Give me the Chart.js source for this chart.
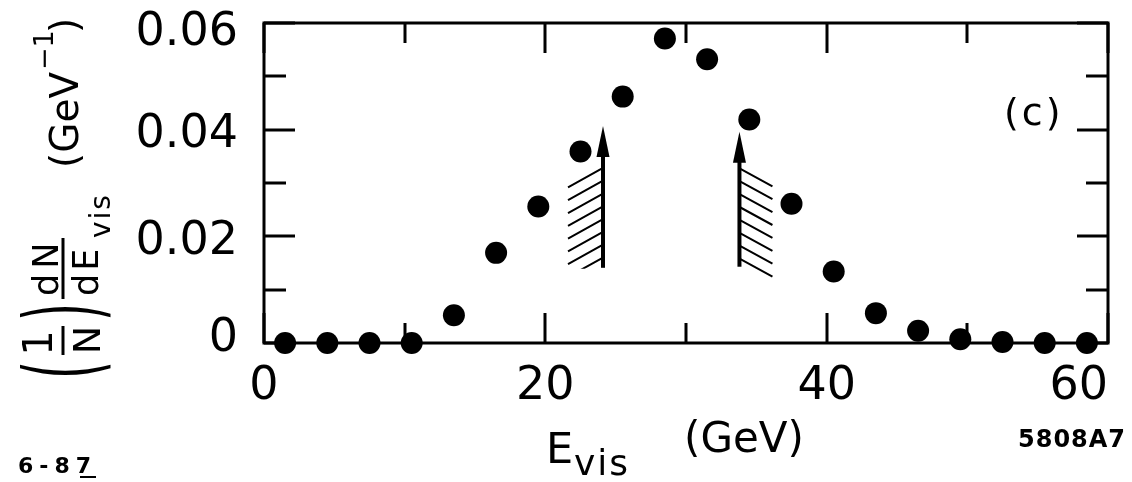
<!DOCTYPE html>
<html>
<head>
<meta charset="utf-8">
<script src="https://cdn.jsdelivr.net/npm/chart.js@4.4.1/dist/chart.umd.min.js"></script>
<style>
  html, body { margin: 0; padding: 0; background: #fff; }
  #wrap { width: 1132px; height: 482px; }
  canvas { display: block; }
</style>
</head>
<body>
<div id="wrap"><canvas id="c" width="1132" height="482"></canvas></div>
<script>
// Visible-energy bin centres (GeV), 3 GeV wide bins
const binCentres = [1.5, 4.5, 7.5, 10.5, 13.5, 16.5, 19.5, 22.5, 25.5, 28.5,
                    31.5, 34.5, 37.5, 40.5, 43.5, 46.5, 49.5, 52.5, 55.5, 58.5];
// Normalised distribution (1/N) dN/dE_vis, GeV^-1
const density = [0, 0, 0, 0, 0.0052, 0.0169, 0.0256, 0.0359, 0.0462, 0.0571,
                 0.0532, 0.0419, 0.0261, 0.0134, 0.0056, 0.0023, 0.0007, 0.0002, 0, 0];

// Labelled ticks
const xTickValues = [0, 20, 40, 60];
const xTickText = ['0', '20', '40', '60'];
const yTickValues = [0, 0.02, 0.04, 0.06];
const yTickText = ['0', '0.02', '0.04', '0.06'];

// Energy cuts shown as arrows (GeV), with the bottom and top of each arrow
const cutEnergy = [24.1, 33.8];
const cutArrowBase = [0.0141, 0.0143];
const cutArrowTip = [0.0407, 0.0396];
const cutHatchSide = ['left', 'right'];

const FAM = "'DejaVu Sans', sans-serif";

function labelFor(values, texts, v) {
  for (let i = 0; i < values.length; i++) {
    if (Math.abs(values[i] - v) < 1e-9) return texts[i];
  }
  return '';
}
function isMajor(values, v) {
  return values.some(t => Math.abs(t - v) < 1e-9);
}

// Vertical nudge (px) of each y label relative to its tick; the label is
// drawn as a two-line entry with an empty line so the shift is lineHeight/2
const yLabelShift = { 0: -4, 0.02: 6, 0.04: 5, 0.06: 10 };

// Frame on all four sides with inward ticks (long on labelled values)
const framePlugin = {
  id: 'frame',
  beforeDatasetsDraw(chart) {
    const { ctx, chartArea: a, scales: { x, y } } = chart;
    ctx.save();
    ctx.strokeStyle = '#000';
    ctx.lineWidth = 3;
    ctx.lineCap = 'butt';
    ctx.strokeRect(a.left, a.top, a.right - a.left, a.bottom - a.top);
    ctx.beginPath();
    x.ticks.forEach(t => {
      const px = Math.round(x.getPixelForValue(t.value));
      const len = isMajor(xTickValues, t.value) ? 30 : 20;
      ctx.moveTo(px, a.bottom); ctx.lineTo(px, a.bottom - len);
      ctx.moveTo(px, a.top); ctx.lineTo(px, a.top + len);
    });
    y.ticks.forEach(t => {
      const py = Math.round(y.getPixelForValue(t.value));
      const len = isMajor(yTickValues, t.value) ? 31 : 22;
      ctx.moveTo(a.left, py); ctx.lineTo(a.left + len, py);
      ctx.moveTo(a.right, py); ctx.lineTo(a.right - len, py);
    });
    ctx.stroke();
    ctx.restore();
  }
};

// Cut arrows with hatching on the rejected side
const cutsPlugin = {
  id: 'cuts',
  afterDatasetsDraw(chart) {
    const { ctx, scales: { x, y } } = chart;
    ctx.save();
    ctx.strokeStyle = '#000';
    ctx.fillStyle = '#000';
    cutEnergy.forEach((e, i) => {
      const px = x.getPixelForValue(e);
      const yb = y.getPixelForValue(cutArrowBase[i]);
      const yt = y.getPixelForValue(cutArrowTip[i]);
      // shaft
      ctx.lineWidth = 4;
      ctx.beginPath();
      ctx.moveTo(px, yb);
      ctx.lineTo(px, yt + 26);
      ctx.stroke();
      // head
      ctx.beginPath();
      ctx.moveTo(px, yt);
      ctx.lineTo(px - 6.5, yt + 31);
      ctx.lineTo(px + 6.5, yt + 31);
      ctx.closePath();
      ctx.fill();
      // hatching
      ctx.lineWidth = 2;
      ctx.save();
      if (cutHatchSide[i] === 'left') {
        ctx.beginPath();
        ctx.rect(px - 40, yt, 40, yb - yt + 1);
        ctx.clip();
        ctx.beginPath();
        for (let k = 0; k < 8; k++) {
          const y0 = yt + 42 + 12.8 * k;
          ctx.moveTo(px, y0);
          ctx.lineTo(px - 35, y0 + 19.5);
        }
        ctx.stroke();
      } else {
        ctx.beginPath();
        for (let k = 0; k < 8; k++) {
          const y0 = yt + 37 + 12.9 * k;
          ctx.moveTo(px + 1, y0);
          ctx.lineTo(px + 33, y0 + 17.5);
        }
        ctx.stroke();
      }
      ctx.restore();
    });
    ctx.restore();
  }
};

// Axis titles, panel tag and figure codes
const textPlugin = {
  id: 'texts',
  afterDraw(chart) {
    const { ctx } = chart;
    const H = chart.height;
    ctx.save();
    ctx.fillStyle = '#000';
    ctx.strokeStyle = '#000';
    ctx.textBaseline = 'alphabetic';

    // ---- y title, written bottom-to-top: (1/N) dN/dE_vis (GeV^-1)
    ctx.save();
    ctx.translate(0, H);
    ctx.rotate(-Math.PI / 2);
    // u runs up the page, v runs to the right
    const tallParen = (ch, u) => {
      ctx.save();
      ctx.scale(1, 2.2);
      ctx.font = `46px ${FAM}`;
      ctx.textAlign = 'center';
      ctx.fillText(ch, u, 44);
      ctx.restore();
    };
    tallParen('(', 112);
    ctx.textAlign = 'center';
    ctx.font = `40px ${FAM}`;
    ctx.fillText('1', 139, 52);
    ctx.font = `38px ${FAM}`;
    ctx.fillText('N', 142, 100);
    ctx.lineWidth = 3;
    ctx.beginPath();
    ctx.moveTo(127, 63); ctx.lineTo(156, 63);
    ctx.stroke();
    tallParen(')', 170);

    ctx.textAlign = 'left';
    ctx.font = `35px ${FAM}`;
    ctx.letterSpacing = '5px';
    ctx.fillText('dN', 186, 58);
    ctx.letterSpacing = '3px';
    ctx.fillText('dE', 186, 98);
    ctx.font = `28px ${FAM}`;
    ctx.letterSpacing = '2px';
    ctx.fillText('vis', 244, 110);
    ctx.letterSpacing = '0px';
    ctx.beginPath();
    ctx.moveTo(183, 63); ctx.lineTo(244, 63);
    ctx.stroke();

    ctx.font = `39px ${FAM}`;
    ctx.fillText('(GeV', 314, 78);
    ctx.font = `27px ${FAM}`;
    ctx.fillText('\u22121', 412, 53);
    ctx.font = `39px ${FAM}`;
    ctx.fillText(')', 449, 78);
    ctx.restore();

    // ---- x title: E_vis (GeV)
    ctx.textAlign = 'left';
    ctx.font = `43px ${FAM}`;
    ctx.fillText('E', 546, 463);
    ctx.font = `36px ${FAM}`;
    ctx.letterSpacing = '2px';
    ctx.fillText('vis', 574, 475);
    ctx.letterSpacing = '0px';
    ctx.font = `42px ${FAM}`;
    ctx.fillText('(GeV)', 684, 452);

    // ---- panel tag
    ctx.font = `38px ${FAM}`;
    ctx.letterSpacing = '3px';
    ctx.fillText('(c)', 1004, 125);

    // ---- figure codes
    ctx.font = `bold 22px ${FAM}`;
    ctx.letterSpacing = '6px';
    ctx.fillText('6-87', 18, 473);
    ctx.lineWidth = 2;
    ctx.beginPath();
    ctx.moveTo(80, 477); ctx.lineTo(96, 477);
    ctx.stroke();
    ctx.font = `bold 24px ${FAM}`;
    ctx.letterSpacing = '1px';
    ctx.fillText('5808A7', 1018, 447);
    ctx.restore();
  }
};

const points = binCentres.map((e, i) => ({ x: e, y: density[i] }));

function yShiftFor(v) {
  const key = Math.round(v * 100) / 100;
  return yLabelShift[key] || 0;
}

new Chart(document.getElementById('c').getContext('2d'), {
  type: 'scatter',
  data: {
    datasets: [{
      data: points,
      backgroundColor: '#000',
      borderWidth: 0,
      pointRadius: 11,
      pointHoverRadius: 11,
      clip: false
    }]
  },
  options: {
    responsive: false,
    animation: false,
    devicePixelRatio: 1,
    events: [],
    layout: { padding: { left: 0, top: 23, right: 24, bottom: 0 } },
    plugins: { legend: { display: false }, tooltip: { enabled: false } },
    scales: {
      x: {
        type: 'linear',
        min: 0, max: 60,
        grid: { display: false, drawTicks: false },
        border: { display: false },
        ticks: {
          stepSize: 10,
          autoSkip: false,
          maxRotation: 0,
          padding: 21,
          color: '#000',
          font: { family: FAM, size: 46, lineHeight: 1 },
          // trailing spaces pull the last label back inside the canvas
          callback: (v) => {
            const s = labelFor(xTickValues, xTickText, v);
            return v === 60 && s ? s + '    ' : s;
          }
        },
        afterFit: (s) => { s.height = 139; s.paddingLeft = 0; s.paddingRight = 0; }
      },
      y: {
        type: 'linear',
        min: 0, max: 0.06,
        grid: { display: false, drawTicks: false },
        border: { display: false },
        ticks: {
          stepSize: 0.01,
          autoSkip: false,
          padding: 26,
          color: '#000',
          font: (c) => {
            const sh = c.tick ? Math.abs(yShiftFor(c.tick.value)) : 0;
            return { family: FAM, size: 46, lineHeight: sh > 0 ? (2 * sh) + 'px' : 1 };
          },
          callback: (v) => {
            const s = labelFor(yTickValues, yTickText, Math.round(v * 100) / 100);
            if (!s) return '';
            const sh = yShiftFor(v);
            if (sh > 0) return ['', s];
            if (sh < 0) return [s, ''];
            return s;
          }
        },
        afterFit: (s) => { s.width = 264; s.paddingTop = 0; s.paddingBottom = 0; }
      }
    }
  },
  plugins: [framePlugin, cutsPlugin, textPlugin]
});
</script>
</body>
</html>
